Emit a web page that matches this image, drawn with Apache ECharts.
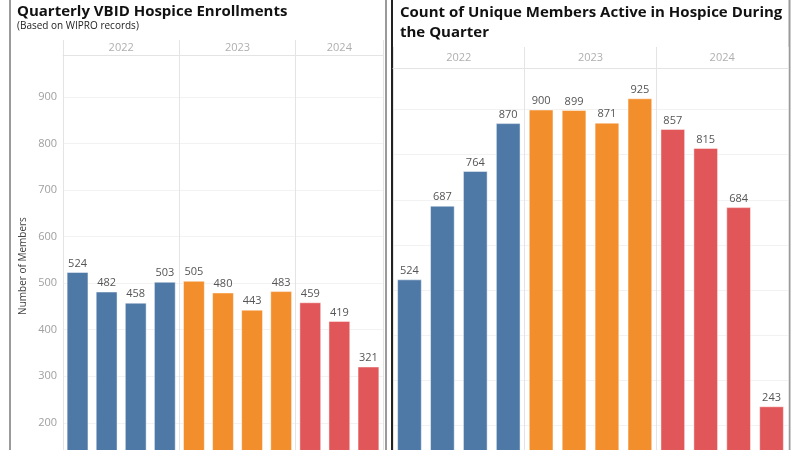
<!DOCTYPE html>
<html>
<head>
<meta charset="utf-8">
<script src="https://cdn.jsdelivr.net/npm/echarts@6/dist/echarts.min.js"></script>
<style>html,body{margin:0;padding:0;background:#fff}#c{width:800px;height:450px}</style>
</head>
<body>
<div id="c"></div>
<script>
const years = ['2022', '2023', '2024'];
const leftCategories = ['2022 Q1','2022 Q2','2022 Q3','2022 Q4','2023 Q1','2023 Q2','2023 Q3','2023 Q4','2024 Q1','2024 Q2','2024 Q3'];
const leftValues = [524, 482, 458, 503, 505, 480, 443, 483, 459, 419, 321];
const rightCategories = ['2022 Q1','2022 Q2','2022 Q3','2022 Q4','2023 Q1','2023 Q2','2023 Q3','2023 Q4','2024 Q1','2024 Q2','2024 Q3','2024 Q4'];
const rightValues = [524, 687, 764, 870, 900, 899, 871, 925, 857, 815, 684, 243];
const yTicks = [0, 100, 200, 300, 400, 500, 600, 700, 800, 900];

const yearColors = {'2022': '#4e79a7', '2023': '#f28e2b', '2024': '#e15759'};
const FONT = '"Open Sans", "Noto Sans", sans-serif';

function yearCenters(cats) {
  const out = [];
  years.forEach(y => {
    const idx = cats.map((c, i) => c.startsWith(y) ? i : -1).filter(i => i >= 0);
    if (idx.length) out.push([(idx[0] + idx[idx.length - 1] + 1) / 2, 0.5, y]);
  });
  return out;
}

const chart = echarts.init(document.getElementById('c'));

const gridLine = '#e4e4e4';
const hGrid = '#f2f2f2';

function valueSepAxis(gridIndex, n, withLine) {
  return {
    type: 'value', gridIndex, min: 0, max: n, interval: 4,
    axisLine: {show: withLine, lineStyle: {color: gridLine}},
    axisTick: {show: false}, axisLabel: {show: false},
    splitLine: {show: true, lineStyle: {color: gridLine, width: 1}}
  };
}

function barSeries(xi, yi, cats, vals) {
  return {
    type: 'bar', xAxisIndex: xi, yAxisIndex: yi, barWidth: '75%',
    data: vals.map((v, i) => ({value: v, itemStyle: {color: yearColors[cats[i].slice(0, 4)]}})),
    itemStyle: {borderColor: 'rgba(255,255,255,0.45)', borderWidth: 1},
    label: {show: true, position: 'top', distance: 3, color: '#555', fontSize: 11, fontFamily: FONT},
    silent: true, animation: false
  };
}

function yearSeries(xi, yi, cats) {
  return {
    type: 'scatter', xAxisIndex: xi, yAxisIndex: yi, symbolSize: 0,
    data: yearCenters(cats),
    label: {show: true, position: 'inside', formatter: p => p.data[2], color: '#9a9a9a', fontSize: 11, fontFamily: FONT},
    silent: true, animation: false
  };
}

const option = {
  animation: false,
  title: [
    {text: 'Quarterly VBID Hospice Enrollments', subtext: '(Based on WIPRO records)', left: 12, top: -1, itemGap: 2,
     textStyle: {fontFamily: FONT, fontSize: 15, fontWeight: 'bold', color: '#111'},
     subtextStyle: {fontFamily: FONT, fontSize: 10, color: '#222'}},
    {text: 'Count of Unique Members Active in Hospice During\nthe Quarter', left: 395, top: -2,
     textStyle: {fontFamily: FONT, fontSize: 15, fontWeight: 'bold', color: '#111', lineHeight: 20}}
  ],
  grid: [
    {left: 63, right: 417, top: 55, height: 461, outerBoundsMode: 'none'},
    {left: 63, right: 417, top: 40, height: 15, outerBoundsMode: 'none'},
    {left: 393, right: 12, top: 68, height: 448, outerBoundsMode: 'none'},
    {left: 393, right: 12, top: 47, height: 21, outerBoundsMode: 'none'}
  ],
  xAxis: [
    {type: 'category', gridIndex: 0, data: leftCategories, show: false},
    valueSepAxis(0, leftCategories.length, false),
    valueSepAxis(1, leftCategories.length, true),
    {type: 'category', gridIndex: 2, data: rightCategories, show: false},
    valueSepAxis(2, rightCategories.length, false),
    valueSepAxis(3, rightCategories.length, true)
  ],
  yAxis: [
    {type: 'value', gridIndex: 0, min: yTicks[0], max: 990, interval: yTicks[1] - yTicks[0],
     axisLine: {show: false}, axisTick: {show: false},
     axisLabel: {show: true, color: '#a0a0a0', fontSize: 11, fontFamily: FONT, margin: 6, showMaxLabel: false},
     splitLine: {show: true, lineStyle: {color: hGrid}}},
    {type: 'value', gridIndex: 1, min: 0, max: 1, show: false},
    {type: 'value', gridIndex: 2, min: yTicks[0], max: 992, interval: yTicks[1] - yTicks[0],
     axisLine: {show: false}, axisTick: {show: false}, axisLabel: {show: false},
     splitLine: {show: true, lineStyle: {color: hGrid}}},
    {type: 'value', gridIndex: 3, min: 0, max: 1, show: false}
  ],
  series: [
    barSeries(0, 0, leftCategories, leftValues),
    yearSeries(2, 1, leftCategories),
    barSeries(3, 2, rightCategories, rightValues),
    yearSeries(5, 3, rightCategories)
  ],
  graphic: [
    {type: 'text', x: 23, y: 266, rotation: Math.PI / 2,
     style: {text: 'Number of Members', fill: '#444', font: '10px ' + FONT, textAlign: 'center', textVerticalAlign: 'middle'}},
    {type: 'line', shape: {x1: 10, y1: 0, x2: 10, y2: 450}, style: {stroke: '#9a9a9a', lineWidth: 2}},
    {type: 'line', shape: {x1: 386, y1: 0, x2: 386, y2: 450}, style: {stroke: '#9a9a9a', lineWidth: 2}},
    {type: 'line', shape: {x1: 392, y1: 0, x2: 392, y2: 450}, style: {stroke: '#222', lineWidth: 2}},
    {type: 'line', shape: {x1: 789.5, y1: 0, x2: 789.5, y2: 450}, style: {stroke: '#9a9a9a', lineWidth: 2}}
  ]
};
chart.setOption(option);
</script>
</body>
</html>
